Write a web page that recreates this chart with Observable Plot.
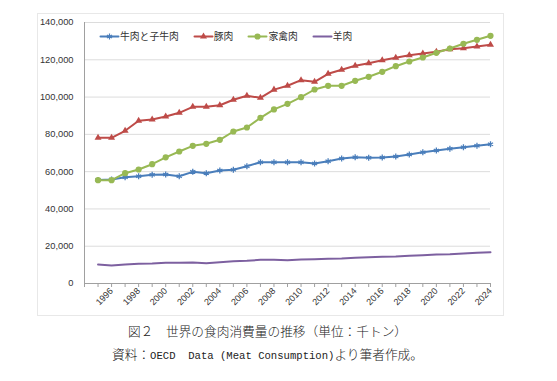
<!DOCTYPE html>
<html>
<head>
<meta charset="utf-8">
<script src="https://cdn.jsdelivr.net/npm/d3@7"></script>
<script src="https://cdn.jsdelivr.net/npm/@observablehq/plot@0.6"></script>
<style>
  html, body { margin: 0; padding: 0; background: #fff; }
  #wrap { position: relative; width: 557px; height: 381px; overflow: hidden; }
  #chart { position: absolute; left: 0; top: 0; }
  #legend { position: absolute; left: 100px; top: 29px; display: flex; align-items: center;
            font-family: "Noto Sans CJK JP", sans-serif; font-size: 9.8px; color: #333; }
  #legend .item { display: flex; align-items: center; margin-right: 15px; }
  #legend svg { margin-right: 2px; }
  .cap { position: absolute; left: 0; width: 535px; text-align: center; font-weight: 300;
         font-family: "Noto Sans CJK JP", sans-serif; font-size: 12.7px; color: #222; white-space: nowrap; }
  .lat { font-family: "Liberation Mono", monospace; font-size: 10.6px; font-weight: 400; }
</style>
</head>
<body>
<div id="wrap">
  <div id="chart"></div>
  <div id="legend"></div>
  <div class="cap" style="top:321px">図２　世界の食肉消費量の推移（単位：千トン）</div>
  <div class="cap" style="top:344px">資料：<span class="lat">OECD</span>　<span class="lat">Data (Meat Consumption)</span>より筆者作成。</div>
</div>
<script>
const years = [1995,1996,1997,1998,1999,2000,2001,2002,2003,2004,2005,2006,2007,2008,2009,
               2010,2011,2012,2013,2014,2015,2016,2017,2018,2019,2020,2021,2022,2023,2024];
const beef = [55500,55800,57000,57550,58300,58470,57550,59900,59170,60610,60990,62920,65060,65060,65060,
              65060,64370,65600,67050,67750,67430,67590,68120,69200,70430,71340,72250,73110,73860,74720];
const pork = [78150,78150,81900,87270,87970,89580,91560,94780,94780,95640,98540,100680,99610,104000,106050,
              109050,108190,112480,114630,116770,118170,119780,121060,122460,123370,124280,125680,126210,127130,128040];
const poultry = [55410,55410,59170,61150,63990,67670,70800,73860,74930,77080,81530,83680,88880,93400,96390,
                 99930,104060,106050,106050,108730,110870,113560,116560,119080,121230,123750,126050,128570,130720,132870];
const lamb = [10190,9660,10190,10570,10730,11100,11100,11260,10900,11430,11960,12180,12710,12710,12500,
              12870,13030,13250,13410,13780,14110,14320,14480,14860,15180,15560,15720,16090,16470,16790];
const seriesNames = ["牛肉と子牛肉", "豚肉", "家禽肉", "羊肉"];
const seriesColors = ["#4a7ebb", "#be4b48", "#98b954", "#7d60a0"];
const seriesSymbols = ["asterisk", "triangle", "circle", null];
const yTicks = [0, 20000, 40000, 60000, 80000, 100000, 120000, 140000];
const xLabelYears = [1996,1998,2000,2002,2004,2006,2008,2010,2012,2014,2016,2018,2020,2022,2024];
const xTickYears = [1994, ...years];
const axisStart = 1994;

const seriesValues = [beef, pork, poultry, lamb];
const rows = [];
seriesValues.forEach((vals, i) => vals.forEach((v, j) => rows.push({series: seriesNames[i], year: years[j], value: v})));

const symbolR = {asterisk: 2.8, triangle: 2.6, circle: 3.1};

const marks = [
  Plot.frame({stroke: "#e8e8e8", insetLeft: -47, insetTop: -9, insetRight: -13, insetBottom: -32}),
  Plot.gridY(yTicks, {stroke: "#dcdcdc", strokeOpacity: 1, strokeWidth: 1}),
  Plot.ruleX([axisStart], {stroke: "#a0a0a0", strokeWidth: 1}),
  Plot.ruleY([0], {stroke: "#a0a0a0", strokeWidth: 1}),
  Plot.axisY(yTicks, {tickSize: 0, tickPadding: 11, tickFormat: d3.format(","), label: null,
    fontFamily: "Liberation Sans, sans-serif", fontSize: 9.3, fill: "#333"}),
  Plot.axisX(xTickYears, {tickSize: 4, stroke: "#a0a0a0", text: null, label: null}),
  Plot.axisX(xLabelYears, {tickSize: 0, tickPadding: 6, tickRotate: -45, tickFormat: d => String(d), label: null,
    fontFamily: "Liberation Sans, sans-serif", fontSize: 9, fill: "#333"})
];
seriesNames.forEach((name, i) => {
  const data = rows.filter(r => r.series === name);
  marks.push(Plot.line(data, {x: "year", y: "value", stroke: seriesColors[i], strokeWidth: 2}));
  const sym = seriesSymbols[i];
  if (sym) {
    if (sym === "asterisk") {
      marks.push(Plot.dot(data, {x: "year", y: "value", symbol: sym, r: symbolR[sym], stroke: seriesColors[i], strokeWidth: 1.3}));
    } else {
      marks.push(Plot.dot(data, {x: "year", y: "value", symbol: sym, r: symbolR[sym], fill: seriesColors[i], stroke: "none"}));
    }
  }
});

const chart = Plot.plot({
  width: 557,
  height: 318,
  marginLeft: 84,
  marginRight: 67,
  marginTop: 22,
  marginBottom: 35,
  x: {type: "linear", domain: [axisStart, 2024], label: null},
  y: {domain: [0, 140000], label: null},
  style: {background: "transparent", overflow: "visible"},
  marks
});
document.getElementById("chart").appendChild(chart);

// legend
const legend = document.getElementById("legend");
seriesNames.forEach((name, i) => {
  const item = document.createElement("div");
  item.className = "item";
  const sym = seriesSymbols[i];
  const sw = Plot.plot({
    width: 18, height: 10, margin: 0,
    x: {domain: [0, 2], axis: null}, y: {domain: [0, 1], axis: null},
    style: {background: "transparent", overflow: "visible"},
    marks: [
      Plot.lineX([0, 2], {y: [0.5, 0.5], stroke: seriesColors[i], strokeWidth: 2}),
      ...(sym ? [Plot.dot([1], {x: d => d, y: () => 0.5, symbol: sym, r: symbolR[sym],
        stroke: sym === "asterisk" ? seriesColors[i] : "none", fill: sym === "asterisk" ? "none" : seriesColors[i], strokeWidth: 1.2})] : [])
    ]
  });
  item.appendChild(sw);
  const t = document.createElement("span");
  t.textContent = name;
  item.appendChild(t);
  legend.appendChild(item);
});
</script>
</body>
</html>
